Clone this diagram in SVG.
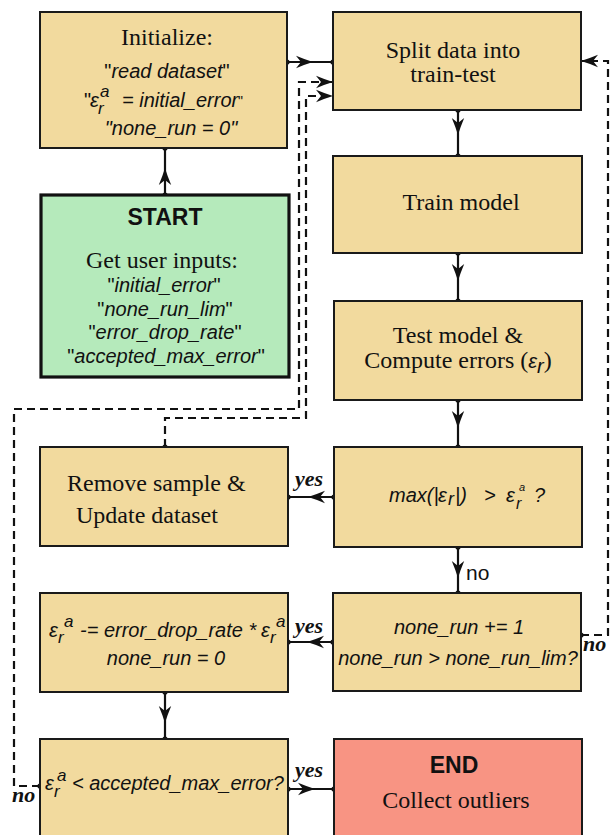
<svg xmlns="http://www.w3.org/2000/svg" width="610" height="835" viewBox="0 0 610 835">
  <style>
    .box { fill: #F2DA9E; stroke: #1a1a1a; stroke-width: 2; }
    .start { fill: #B5EABB; stroke: #111; stroke-width: 3.2; }
    .end { fill: #F89483; stroke: #1a1a1a; stroke-width: 2; }
    .serif { font-family: "Liberation Serif", "Times New Roman", serif; font-size: 24px; fill: #111; }
    .sans { font-family: "Liberation Sans", Arial, sans-serif; font-size: 20px; fill: #111; }
    .it { font-style: italic; }
    .up { font-style: normal; }
    .bold { font-family: "Liberation Sans", Arial, sans-serif; font-size: 23px; font-weight: bold; fill: #111; }
    .lbl { font-family: "Liberation Serif", "Times New Roman", serif; font-size: 22px; font-weight: bold; font-style: italic; fill: #111; }
    .lno { font-family: "Liberation Sans", Arial, sans-serif; font-size: 21px; fill: #111; }
    .sm { font-size: 17px; }
    .line { fill: none; stroke: #111; stroke-width: 2.2; }
    .dash { fill: none; stroke: #111; stroke-width: 2.2; stroke-dasharray: 8 5; }
  </style>
  <defs>
    <marker id="arrow" markerUnits="userSpaceOnUse" markerWidth="20" markerHeight="14" viewBox="0 0 20 14" refX="18" refY="7" orient="auto" overflow="visible">
      <path d="M18,7 Q10,4.6 1,0.8 L6,7 L1,13.2 Q10,9.4 18,7 Z" fill="#111"/>
    </marker>
    <marker id="dot" markerUnits="userSpaceOnUse" markerWidth="6" markerHeight="6" viewBox="0 0 6 6" refX="3" refY="3" overflow="visible">
      <circle cx="3" cy="3" r="2.6" fill="#111"/>
    </marker>
  </defs>

  <!-- connectors -->
  <g id="connectors">
    <path class="line" d="M165,195 L165,168 L165,148" marker-start="url(#dot)" marker-mid="url(#arrow)" marker-end="url(#dot)"/>
    <path class="line" d="M287,62 L313,62 L333,62" marker-start="url(#dot)" marker-mid="url(#arrow)" marker-end="url(#dot)"/>
    <path class="line" d="M458,110 L458,135 L458,156" marker-start="url(#dot)" marker-mid="url(#arrow)" marker-end="url(#dot)"/>
    <path class="line" d="M458,253 L458,281 L458,301" marker-start="url(#dot)" marker-mid="url(#arrow)" marker-end="url(#dot)"/>
    <path class="line" d="M458,400 L458,428 L458,447" marker-start="url(#dot)" marker-mid="url(#arrow)" marker-end="url(#dot)"/>
    <path class="line" d="M334,497 L308,497 L288,497" marker-start="url(#dot)" marker-mid="url(#arrow)" marker-end="url(#dot)"/>
    <path class="line" d="M458,547 L458,578 L458,593" marker-start="url(#dot)" marker-mid="url(#arrow)" marker-end="url(#dot)"/>
    <path class="line" d="M333,642 L307,642 L288,642" marker-start="url(#dot)" marker-mid="url(#arrow)" marker-end="url(#dot)"/>
    <path class="line" d="M165,692 L165,723 L165,739" marker-start="url(#dot)" marker-mid="url(#arrow)" marker-end="url(#dot)"/>
    <path class="line" d="M288,789 L315,789 L334,789" marker-start="url(#dot)" marker-mid="url(#arrow)" marker-end="url(#dot)"/>
    <!-- loops back to the split step -->
    <path class="dash" d="M581,635 H608 V61 H581" marker-start="url(#dot)" marker-end="url(#arrow)"/>
    <path class="dash" d="M165,447 V418 H306 V96 H333" marker-start="url(#dot)" marker-end="url(#arrow)"/>
    <path class="dash" d="M40,786 H14 V409 H299 V82 H333" marker-start="url(#dot)" marker-end="url(#arrow)"/>
    <text class="lbl" x="295" y="486">yes</text>
    <text class="lbl" x="295" y="633">yes</text>
    <text class="lbl" x="295" y="777">yes</text>
    <text class="lbl" x="583" y="651">no</text>
    <text class="lbl" x="12" y="802">no</text>
    <text class="lno" x="466" y="580">no</text>
  </g>

  <g id="initialize">
    <rect class="box" x="40" y="12" width="247" height="136"/>
    <text class="serif" x="167" y="45" text-anchor="middle">Initialize:</text>
    <text class="sans it" x="167" y="78" text-anchor="middle"><tspan class="up">"</tspan>read dataset<tspan class="up">"</tspan></text>
    <text class="sans it"><tspan class="up" x="84" y="107">"</tspan><tspan x="90" y="107">ε</tspan><tspan class="sm" x="100" y="97">a</tspan><tspan class="sm" x="98" y="114">r</tspan><tspan x="122" y="107">= initial_error</tspan><tspan class="up" x="238" y="106" font-size="14">"</tspan></text>
    <text class="sans it" x="171" y="135" text-anchor="middle">"none_run = 0"</text>
  </g>

  <g id="start">
    <rect class="start" x="41" y="195" width="248" height="182"/>
    <text class="bold" x="165" y="225" text-anchor="middle">START</text>
    <text class="serif" x="162" y="268" text-anchor="middle">Get user inputs:</text>
    <text class="sans it" x="164" y="292" text-anchor="middle"><tspan class="up">"</tspan>initial_error<tspan class="up">"</tspan></text>
    <text class="sans it" x="165" y="316" text-anchor="middle"><tspan class="up">"</tspan>none_run_lim<tspan class="up">"</tspan></text>
    <text class="sans it" x="165" y="339" text-anchor="middle"><tspan class="up">"</tspan>error_drop_rate<tspan class="up">"</tspan></text>
    <text class="sans it" x="166" y="363" text-anchor="middle"><tspan class="up">"</tspan>accepted_max_error<tspan class="up">"</tspan></text>
  </g>

  <g id="split">
    <rect class="box" x="333" y="12" width="248" height="98"/>
    <text class="serif" x="453" y="58" text-anchor="middle">Split data into</text>
    <text class="serif" x="453" y="82" text-anchor="middle">train-test</text>
  </g>

  <g id="train">
    <rect class="box" x="333" y="156" width="249" height="97"/>
    <text class="serif" x="461" y="210" text-anchor="middle">Train model</text>
  </g>

  <g id="test">
    <rect class="box" x="334" y="301" width="248" height="99"/>
    <text class="serif" x="458" y="343" text-anchor="middle">Test model &amp;</text>
    <text class="serif" x="458" y="368" text-anchor="middle">Compute errors (<tspan class="sans it" font-size="22px">ε</tspan><tspan class="sans it" font-size="20px" dy="5">r</tspan><tspan dy="-5">)</tspan></text>
  </g>

  <g id="check-max">
    <rect class="box" x="334" y="447" width="248" height="100"/>
    <text class="sans it"><tspan x="389" y="502">max(|</tspan><tspan x="438" y="502">ε</tspan><tspan x="448" y="505" font-size="18px">r</tspan><tspan x="455" y="502">|)</tspan><tspan x="484" y="502">&gt;</tspan><tspan x="506" y="502">ε</tspan><tspan x="519" y="491" font-size="11px">a</tspan><tspan x="516" y="509" font-size="16px">r</tspan><tspan x="534" y="502">?</tspan></text>
  </g>

  <g id="remove">
    <rect class="box" x="40" y="447" width="248" height="99"/>
    <text class="serif" x="67" y="491">Remove sample &amp;</text>
    <text class="serif" x="76" y="523">Update dataset</text>
  </g>

  <g id="count-run">
    <rect class="box" x="333" y="593" width="248" height="98"/>
    <text class="sans it" x="459" y="634" text-anchor="middle">none_run += 1</text>
    <text class="sans it" x="458" y="665" text-anchor="middle">none_run &gt; none_run_lim?</text>
  </g>

  <g id="drop-error">
    <rect class="box" x="40" y="593" width="248" height="99"/>
    <text class="sans it"><tspan x="49" y="637">ε</tspan><tspan class="sm" x="64" y="627">a</tspan><tspan class="sm" x="58" y="643">r</tspan><tspan x="80" y="637">-= error_drop_rate *</tspan><tspan x="261" y="637">ε</tspan><tspan class="sm" x="276" y="627">a</tspan><tspan class="sm" x="270" y="643">r</tspan></text>
    <text class="sans it" x="166" y="665" text-anchor="middle">none_run = 0</text>
  </g>

  <g id="check-accepted">
    <rect class="box" x="40" y="739" width="248" height="110"/>
    <text class="sans it"><tspan x="45" y="790">ε</tspan><tspan class="sm" x="57" y="781">a</tspan><tspan class="sm" x="54" y="797">r</tspan><tspan x="72" y="790">&lt; accepted_max_error?</tspan></text>
  </g>

  <g id="end">
    <rect class="end" x="334" y="739" width="248" height="110"/>
    <text class="bold" x="454" y="773" text-anchor="middle">END</text>
    <text class="serif" x="456" y="808" text-anchor="middle">Collect outliers</text>
  </g>
</svg>
